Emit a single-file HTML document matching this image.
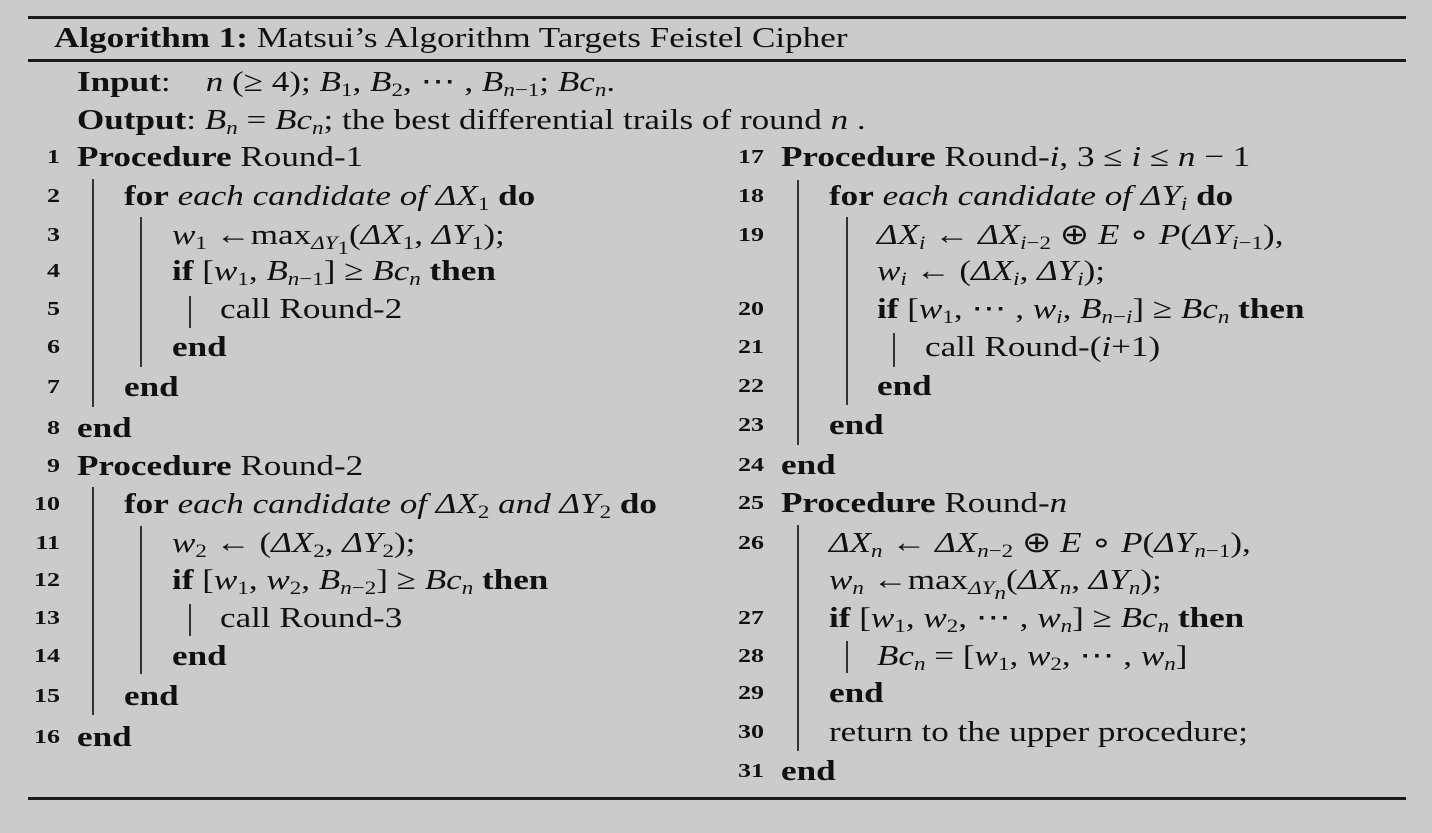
<!DOCTYPE html>
<html><head><meta charset="utf-8"><style>
body{margin:0;width:1432px;height:833px;background:#cbcbcb;position:relative;overflow:hidden;font-family:"Liberation Serif",serif;color:#111;}
.l{position:absolute;font-size:29px;line-height:36px;white-space:nowrap;transform:scaleX(1.21);transform-origin:0 50%;}
.n{position:absolute;font-size:20px;line-height:36px;font-weight:bold;text-align:right;width:40px;transform:scaleX(1.3);transform-origin:100% 50%;}
.h{position:absolute;height:3px;background:#1a1a1a;left:28px;width:1378px;}
.v{position:absolute;width:2px;background:#333;}
b{font-weight:bold}
i{font-style:italic}
sub{font-size:19px;vertical-align:-5px;line-height:0}
</style></head><body>
<div class="h" style="top:16px"></div>
<div class="h" style="top:59px"></div>
<div class="h" style="top:797px"></div>
<div class="l" style="left:54px;top:20px"><b>Algorithm 1:</b> Matsui’s Algorithm Targets Feistel Cipher</div>
<div class="l" style="left:77px;top:64px"><b>Input</b>: &nbsp;&nbsp;&nbsp;<i>n</i> (≥ 4); <i>B</i><sub>1</sub>, <i>B</i><sub>2</sub>, ⋯ , <i>B</i><sub><i>n</i>−1</sub>; <i>Bc<sub>n</sub></i>.</div>
<div class="l" style="left:77px;top:102px"><b>Output</b>: <i>B<sub>n</sub></i> = <i>Bc<sub>n</sub></i>; the best differential trails of round <i>n</i> .</div>

<div class="n" style="left:20px;top:139px">1</div><div class="l" style="left:77px;top:139px"><b>Procedure</b> Round-1</div>
<div class="n" style="left:20px;top:178px">2</div><div class="l" style="left:124px;top:178px"><b>for</b> <i>each candidate of ΔX</i><sub>1</sub> <b>do</b></div>
<div class="n" style="left:20px;top:217px">3</div><div class="l" style="left:172px;top:217px"><i>w</i><sub>1</sub> ←max<sub><i>ΔY</i><sub>1</sub></sub>(<i>ΔX</i><sub>1</sub>, <i>ΔY</i><sub>1</sub>);</div>
<div class="n" style="left:20px;top:253px">4</div><div class="l" style="left:172px;top:253px"><b>if</b> [<i>w</i><sub>1</sub>, <i>B</i><sub><i>n</i>−1</sub>] ≥ <i>Bc<sub>n</sub></i> <b>then</b></div>
<div class="n" style="left:20px;top:291px">5</div><div class="l" style="left:220px;top:291px">call Round-2</div>
<div class="n" style="left:20px;top:329px">6</div><div class="l" style="left:172px;top:329px"><b>end</b></div>
<div class="n" style="left:20px;top:369px">7</div><div class="l" style="left:124px;top:369px"><b>end</b></div>
<div class="n" style="left:20px;top:410px">8</div><div class="l" style="left:77px;top:410px"><b>end</b></div>
<div class="n" style="left:20px;top:448px">9</div><div class="l" style="left:77px;top:448px"><b>Procedure</b> Round-2</div>
<div class="n" style="left:20px;top:486px">10</div><div class="l" style="left:124px;top:486px"><b>for</b> <i>each candidate of ΔX</i><sub>2</sub> <i>and ΔY</i><sub>2</sub> <b>do</b></div>
<div class="n" style="left:20px;top:525px">11</div><div class="l" style="left:172px;top:525px"><i>w</i><sub>2</sub> ← (<i>ΔX</i><sub>2</sub>, <i>ΔY</i><sub>2</sub>);</div>
<div class="n" style="left:20px;top:562px">12</div><div class="l" style="left:172px;top:562px"><b>if</b> [<i>w</i><sub>1</sub>, <i>w</i><sub>2</sub>, <i>B</i><sub><i>n</i>−2</sub>] ≥ <i>Bc<sub>n</sub></i> <b>then</b></div>
<div class="n" style="left:20px;top:600px">13</div><div class="l" style="left:220px;top:600px">call Round-3</div>
<div class="n" style="left:20px;top:638px">14</div><div class="l" style="left:172px;top:638px"><b>end</b></div>
<div class="n" style="left:20px;top:678px">15</div><div class="l" style="left:124px;top:678px"><b>end</b></div>
<div class="n" style="left:20px;top:719px">16</div><div class="l" style="left:77px;top:719px"><b>end</b></div>

<div class="v" style="left:92px;top:179px;height:228px"></div>
<div class="v" style="left:140px;top:217px;height:150px"></div>
<div class="v" style="left:189px;top:296px;height:32px"></div>
<div class="v" style="left:92px;top:487px;height:228px"></div>
<div class="v" style="left:140px;top:526px;height:148px"></div>
<div class="v" style="left:189px;top:604px;height:32px"></div>

<div class="n" style="left:724px;top:139px">17</div><div class="l" style="left:781px;top:139px"><b>Procedure</b> Round-<i>i</i>, 3 ≤ <i>i</i> ≤ <i>n</i> − 1</div>
<div class="n" style="left:724px;top:178px">18</div><div class="l" style="left:829px;top:178px"><b>for</b> <i>each candidate of ΔY<sub>i</sub></i> <b>do</b></div>
<div class="n" style="left:724px;top:217px">19</div><div class="l" style="left:877px;top:217px"><i>ΔX<sub>i</sub></i> ← <i>ΔX</i><sub><i>i</i>−2</sub> ⊕ <i>E</i> ∘ <i>P</i>(<i>ΔY</i><sub><i>i</i>−1</sub>),</div>
<div class="l" style="left:877px;top:253px"><i>w<sub>i</sub></i> ← (<i>ΔX<sub>i</sub></i>, <i>ΔY<sub>i</sub></i>);</div>
<div class="n" style="left:724px;top:291px">20</div><div class="l" style="left:877px;top:291px"><b>if</b> [<i>w</i><sub>1</sub>, ⋯ , <i>w<sub>i</sub></i>, <i>B</i><sub><i>n</i>−<i>i</i></sub>] ≥ <i>Bc<sub>n</sub></i> <b>then</b></div>
<div class="n" style="left:724px;top:329px">21</div><div class="l" style="left:925px;top:329px">call Round-(<i>i</i>+1)</div>
<div class="n" style="left:724px;top:368px">22</div><div class="l" style="left:877px;top:368px"><b>end</b></div>
<div class="n" style="left:724px;top:407px">23</div><div class="l" style="left:829px;top:407px"><b>end</b></div>
<div class="n" style="left:724px;top:447px">24</div><div class="l" style="left:781px;top:447px"><b>end</b></div>
<div class="n" style="left:724px;top:485px">25</div><div class="l" style="left:781px;top:485px"><b>Procedure</b> Round-<i>n</i></div>
<div class="n" style="left:724px;top:525px">26</div><div class="l" style="left:829px;top:525px"><i>ΔX<sub>n</sub></i> ← <i>ΔX</i><sub><i>n</i>−2</sub> ⊕ <i>E</i> ∘ <i>P</i>(<i>ΔY</i><sub><i>n</i>−1</sub>),</div>
<div class="l" style="left:829px;top:562px"><i>w<sub>n</sub></i> ←max<sub><i>ΔY<sub>n</sub></i></sub>(<i>ΔX<sub>n</sub></i>, <i>ΔY<sub>n</sub></i>);</div>
<div class="n" style="left:724px;top:600px">27</div><div class="l" style="left:829px;top:600px"><b>if</b> [<i>w</i><sub>1</sub>, <i>w</i><sub>2</sub>, ⋯ , <i>w<sub>n</sub></i>] ≥ <i>Bc<sub>n</sub></i> <b>then</b></div>
<div class="n" style="left:724px;top:638px">28</div><div class="l" style="left:877px;top:638px"><i>Bc<sub>n</sub></i> = [<i>w</i><sub>1</sub>, <i>w</i><sub>2</sub>, ⋯ , <i>w<sub>n</sub></i>]</div>
<div class="n" style="left:724px;top:675px">29</div><div class="l" style="left:829px;top:675px"><b>end</b></div>
<div class="n" style="left:724px;top:714px">30</div><div class="l" style="left:829px;top:714px">return to the upper procedure;</div>
<div class="n" style="left:724px;top:753px">31</div><div class="l" style="left:781px;top:753px"><b>end</b></div>

<div class="v" style="left:797px;top:180px;height:265px"></div>
<div class="v" style="left:846px;top:217px;height:188px"></div>
<div class="v" style="left:893px;top:333px;height:34px"></div>
<div class="v" style="left:797px;top:525px;height:226px"></div>
<div class="v" style="left:846px;top:641px;height:32px"></div>
</body></html>
